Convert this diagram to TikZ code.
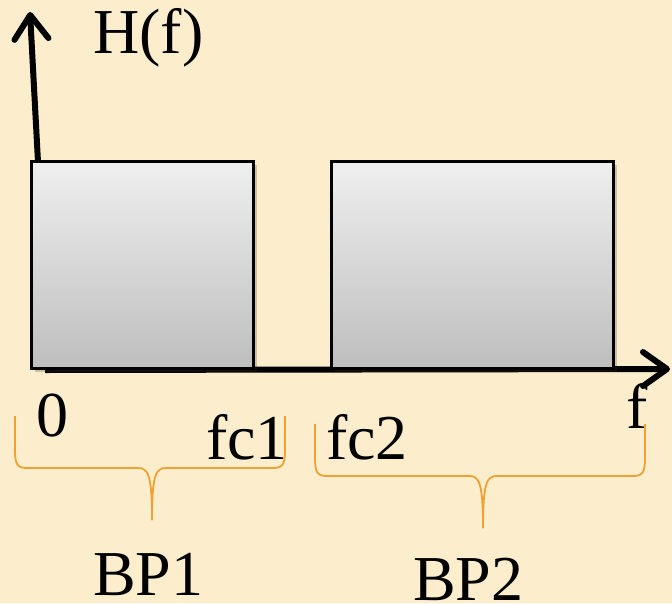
\documentclass[tikz,border=0pt]{standalone}
\usepackage{fontspec}
\setmainfont{Liberation Serif}
\usetikzlibrary{arrows.meta,shadows}
\definecolor{bgcream}{RGB}{252,238,204}
\definecolor{boxtop}{RGB}{239,239,239}
\definecolor{boxbot}{RGB}{190,190,190}
\definecolor{braceorange}{RGB}{242,160,50}
\begin{document}
\begin{tikzpicture}[x=1pt,y=-1pt,
  filterbox/.style={draw=black, line width=3pt, top color=boxtop, bottom color=boxbot,
    inner sep=0pt, drop shadow={shadow xshift=3pt, shadow yshift=-3pt, opacity=0.25, fill=black!60!brown}},
  axisline/.style={line width=6pt, -{Straight Barb[length=24pt, width=34pt, round]}},
  lbl/.style={font=\fontsize{64}{70}\selectfont, inner sep=0pt, anchor=base west},
  bracepath/.style={draw=braceorange, line width=1.8pt}]
\fill[bgcream] (0,0) rectangle (672,603);
\useasboundingbox (0,0) rectangle (672,603);
% axes
\coordinate (ybot) at (38,162);
\coordinate (ytop) at (30,12);
\coordinate (xleft) at (45,370);
\coordinate (xright) at (670,369);
\draw[axisline] (ybot) -- (ytop);
\draw[axisline] (xleft) -- (xright);
% boxes
\node[filterbox, minimum width=222pt, minimum height=207pt] (bp1) at (142.5,265) {};
\node[filterbox, minimum width=282pt, minimum height=207pt] (bp2) at (472.5,265) {};
% labels
\node[lbl] (hf) at (93,53) {H(f)};
\node[lbl] (zero) at (36,436) {0};
\node[lbl] (fc1) at (206,459) {fc1};
\node[lbl] (fc2) at (326,459) {fc2};
\node[lbl] (f) at (626,428) {f};
\node[lbl] (bp1l) at (93,595) {BP1};
\node[lbl] (bp2l) at (413,600) {BP2};
% braces
\draw[bracepath] (15,416) -- (15,450) .. controls (15,466) and (18,468) .. (28,468)
  -- (138,468) .. controls (148,468) and (152,474) .. (152,520);
\draw[bracepath] (285,416) -- (285,450) .. controls (285,466) and (282,468) .. (272,468)
  -- (166,468) .. controls (156,468) and (152,474) .. (152,520);
\draw[bracepath] (315,424) -- (315,458) .. controls (315,474) and (318,476) .. (328,476)
  -- (469,476) .. controls (479,476) and (483,482) .. (483,528);
\draw[bracepath] (645,424) -- (645,458) .. controls (645,474) and (642,476) .. (632,476)
  -- (497,476) .. controls (487,476) and (483,482) .. (483,528);
\end{tikzpicture}
\end{document}
